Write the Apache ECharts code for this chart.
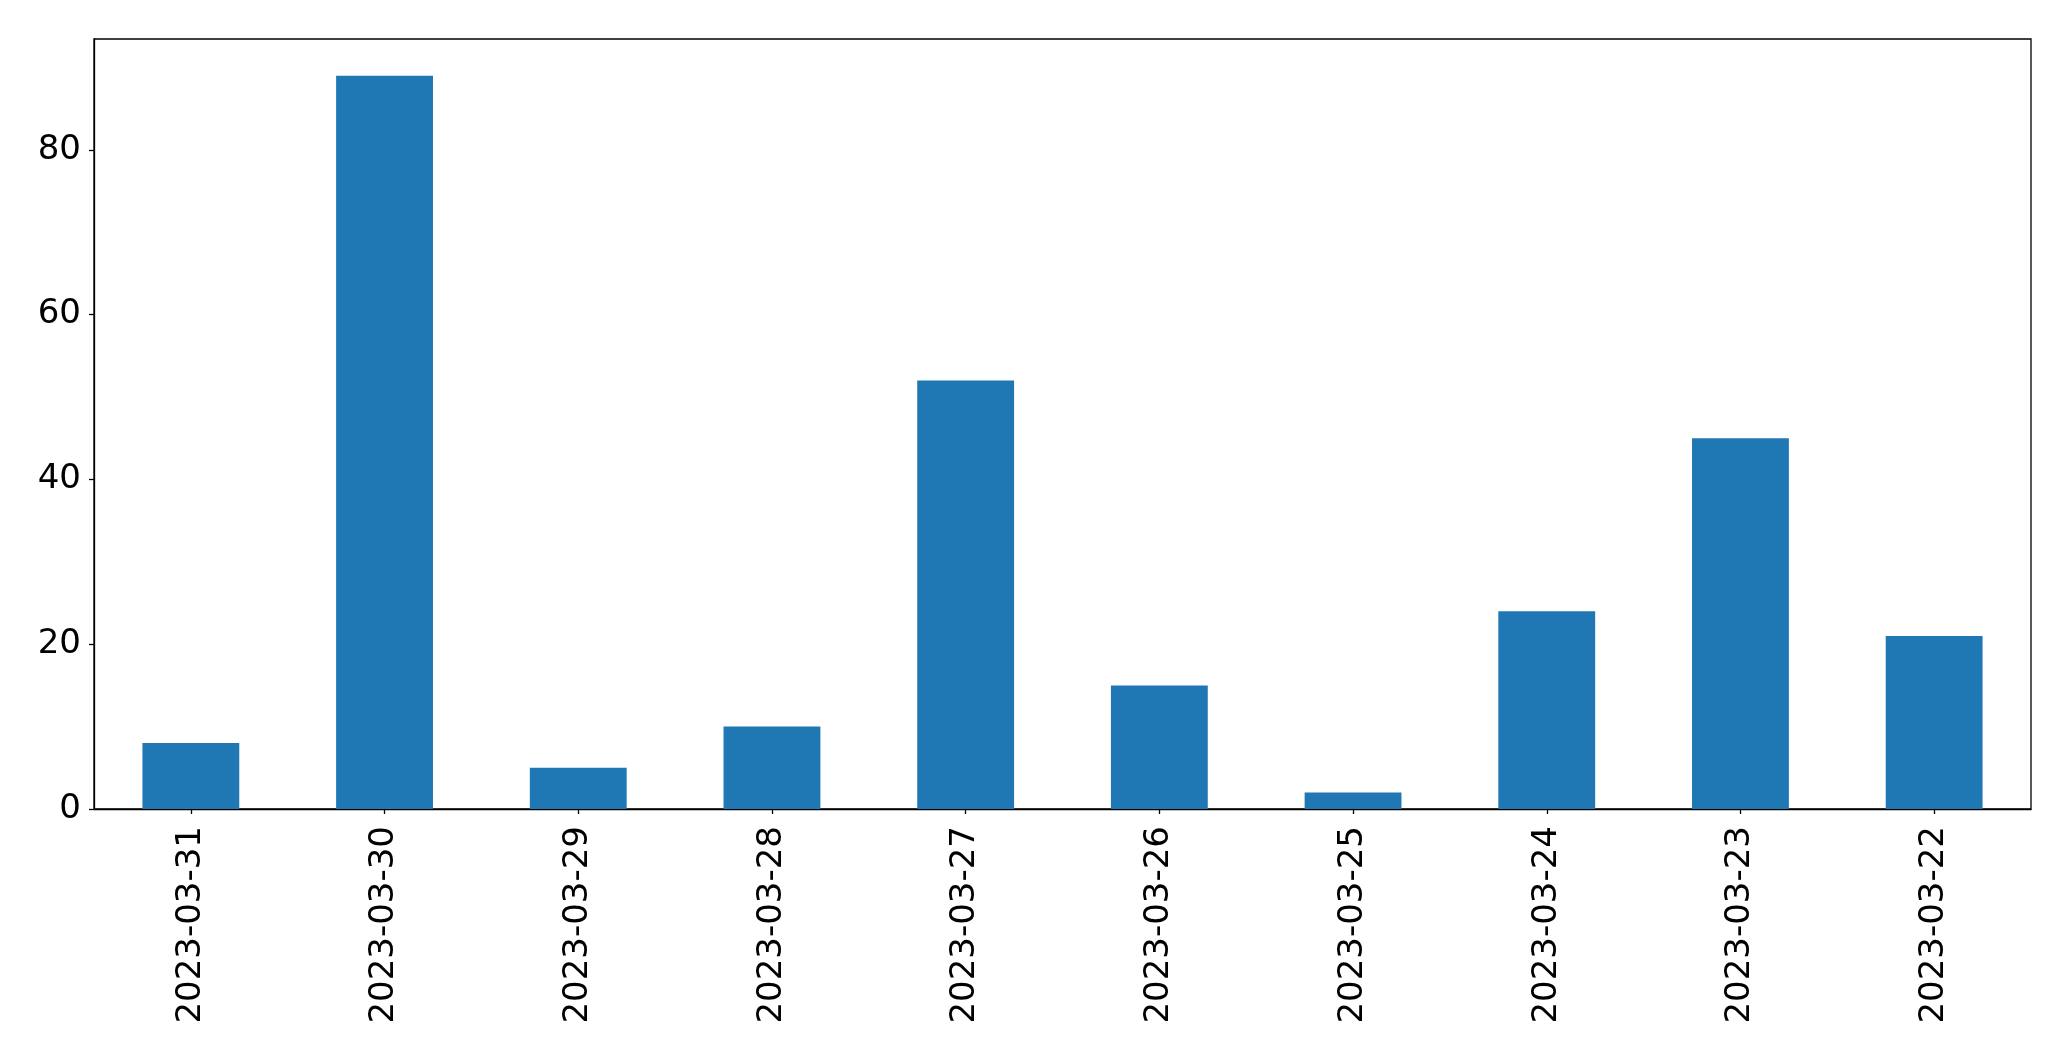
<!DOCTYPE html>
<html>
<head>
<meta charset="utf-8">
<script src="https://cdn.jsdelivr.net/npm/echarts@6/dist/echarts.min.js"></script>
<style>
html,body{margin:0;padding:0;background:#fff;}
#chart{width:2071px;height:1061px;}
</style>
</head>
<body>
<div id="chart"></div>
<script>
const categories = ['2023-03-31','2023-03-30','2023-03-29','2023-03-28','2023-03-27','2023-03-26','2023-03-25','2023-03-24','2023-03-23','2023-03-22'];
const values = [8, 89, 5, 10, 52, 15, 2, 24, 45, 21];
const yTicks = [0, 20, 40, 60, 80];

const chart = echarts.init(document.getElementById('chart'), null, {renderer: 'canvas'});
const font = 'DejaVu Sans';
chart.setOption({
  animation: false,
  backgroundColor: '#fff',
  grid: {
    left: 94, right: 40, top: 39, bottom: 252,
    show: true, borderColor: '#000', borderWidth: 1.3, backgroundColor: 'transparent',
    containLabel: false
  },
  xAxis: {
    type: 'category',
    data: categories,
    axisLine: {show: true, lineStyle: {color: '#000', width: 1.3}},
    axisTick: {show: true, alignWithLabel: true, length: 5, lineStyle: {color: '#000', width: 1.3}},
    axisLabel: {rotate: 90, margin: 17, fontSize: 34, fontFamily: font, color: '#000', interval: 0}
  },
  yAxis: {
    type: 'value',
    min: 0, max: 93.45, interval: 20,
    splitLine: {show: false},
    axisLine: {show: true, lineStyle: {color: '#000', width: 1.3}},
    axisTick: {show: true, length: 5, customValues: yTicks, lineStyle: {color: '#000', width: 1.3}},
    axisLabel: {margin: 13, fontSize: 34, fontFamily: font, color: '#000', customValues: yTicks}
  },
  series: [{
    type: 'bar',
    data: values,
    barWidth: '50%',
    itemStyle: {color: '#1f77b4'}
  }]
});
</script>
</body>
</html>
